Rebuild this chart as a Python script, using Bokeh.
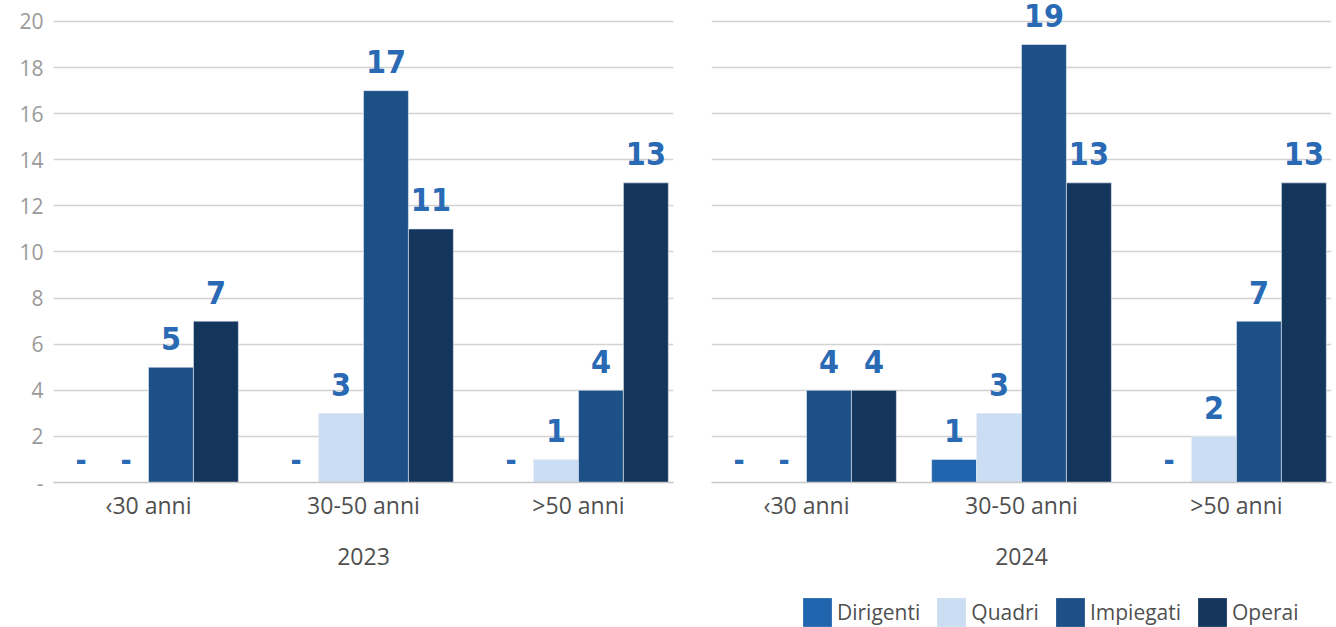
from bokeh.plotting import figure
from bokeh.models import ColumnDataSource, FactorRange, Legend, LegendItem, FixedTicker, Range1d
from bokeh.transform import dodge
from bokeh.layouts import row, column
from bokeh.embed import file_html
from bokeh.resources import INLINE
from bokeh.core.properties import value

# ---- data ----
categories = ["‹30 anni", "30-50 anni", ">50 anni"]
series = ["Dirigenti", "Quadri", "Impiegati", "Operai"]
years = ["2023", "2024"]

dirigenti_2023 = [0, 0, 0]
quadri_2023 = [0, 3, 1]
impiegati_2023 = [5, 17, 4]
operai_2023 = [7, 11, 13]

dirigenti_2024 = [0, 1, 0]
quadri_2024 = [0, 3, 2]
impiegati_2024 = [4, 19, 7]
operai_2024 = [4, 13, 13]

y_ticks = [0, 2, 4, 6, 8, 10, 12, 14, 16, 18, 20]

# ---- style ----
colors = ["#2265AF", "#CADDF3", "#1E5088", "#14355C"]
label_color = "#2A6AB5"
tick_color = "#9A9A9A"
text_color = "#505050"
grid_color = "#D2D2D2"
tick_font = "Open Sans"
num_font = "'DejaVu Sans Condensed', 'Roboto Condensed', Roboto"

bar_w = 0.209
offsets = [-1.5 * bar_w, -0.5 * bar_w, 0.5 * bar_w, 1.5 * bar_w]


def make_panel(year, data, width, height, border_left, border_right, border_bottom, show_y):
    xr = FactorRange(factors=categories, range_padding=-0.0387)
    p = figure(x_range=xr, y_range=Range1d(0, 20.91), width=width, height=height,
               output_backend="svg", toolbar_location=None,
               min_border_left=border_left, min_border_right=border_right,
               min_border_top=0, min_border_bottom=border_bottom)
    p.outline_line_color = None
    p.xgrid.grid_line_color = None
    p.ygrid.grid_line_color = grid_color
    p.ygrid.grid_line_width = 1.5
    p.yaxis.ticker = FixedTicker(ticks=y_ticks)
    p.ygrid.ticker = FixedTicker(ticks=y_ticks)
    p.yaxis.major_label_overrides = {0: "-"}
    p.yaxis.axis_line_color = None
    p.yaxis.major_tick_line_color = None
    p.yaxis.minor_tick_line_color = None
    p.yaxis.major_tick_out = 0
    p.yaxis.major_tick_in = 0
    p.yaxis.major_label_standoff = 10
    p.yaxis.major_label_text_font = tick_font
    p.yaxis.major_label_text_font_size = "21px"
    p.yaxis.major_label_text_color = tick_color
    p.yaxis.visible = show_y

    p.xaxis.axis_line_color = "#C8C8C8"
    p.xaxis.axis_line_width = 1.5
    p.xaxis.major_tick_line_color = None
    p.xaxis.major_tick_out = 0
    p.xaxis.major_tick_in = 0
    p.xaxis.major_label_standoff = 6
    p.xaxis.major_label_text_font = tick_font
    p.xaxis.major_label_text_font_size = "23px"
    p.xaxis.major_label_text_color = text_color
    p.xaxis.axis_label = year
    p.xaxis.axis_label_standoff = 24
    p.xaxis.axis_label_text_font = tick_font
    p.xaxis.axis_label_text_font_size = "23px"
    p.xaxis.axis_label_text_font_style = "normal"
    p.xaxis.axis_label_text_color = text_color

    renderers = []
    for i, name in enumerate(series):
        vals = data[i]
        src = ColumnDataSource(dict(cat=categories, val=vals))
        r = p.vbar(x=dodge("cat", offsets[i], range=xr), top="val", width=bar_w,
                   source=src, fill_color=colors[i], line_color="#E8EEF5",
                   line_width=0.6)
        renderers.append(r)
        nz = [k for k, v in enumerate(vals) if v != 0]
        zz = [k for k, v in enumerate(vals) if v == 0]
        src_nz = ColumnDataSource(dict(cat=[categories[k] for k in nz],
                                       val=[vals[k] for k in nz],
                                       lab=[str(vals[k]) for k in nz]))
        src_z = ColumnDataSource(dict(cat=[categories[k] for k in zz],
                                      val=[vals[k] for k in zz],
                                      lab=["-" for k in zz]))
        p.text(x=dodge("cat", offsets[i], range=xr), y="val", text="lab", source=src_nz,
               text_align="center", text_baseline="alphabetic", y_offset=-29,
               text_font=value(num_font), text_font_style="bold",
               text_font_size="32px", text_color=label_color)
        p.text(x=dodge("cat", offsets[i], range=xr), y="val", text="lab", source=src_z,
               text_align="center", text_baseline="alphabetic", y_offset=-23,
               text_font=value(num_font), text_font_style="bold",
               text_font_size="30px", text_color=label_color)
    return p, renderers


data_2024 = [dirigenti_2024, quadri_2024, impiegati_2024, operai_2024]
p1, _ = make_panel(years[0], [dirigenti_2023, quadri_2023, impiegati_2023, operai_2023],
                   690, 627, 53, 17, 145, True)
p2, rs = make_panel(years[1], data_2024, 646, 594, 21, 5, 112, False)

# legend strip below the right panel (hidden proxy bars carry the legend swatches)
lxr = FactorRange(factors=categories)
lf = figure(width=646, height=33, output_backend="svg", toolbar_location=None,
            min_border=0, x_range=lxr, y_range=Range1d(0, 1))
lf.axis.visible = False
lf.grid.visible = False
lf.outline_line_color = None
legend_rs = []
for i, name in enumerate(series):
    src = ColumnDataSource(dict(cat=categories, val=data_2024[i]))
    r = lf.vbar(x="cat", top="val", width=0.2, source=src, fill_color=colors[i],
                line_color=None)
    r.visible = False
    legend_rs.append(r)
legend = Legend(items=[LegendItem(label=s, renderers=[r]) for s, r in zip(series, legend_rs)],
                orientation="horizontal", location=(88, -3),
                glyph_width=36, glyph_height=36, label_standoff=2, spacing=13,
                padding=0, margin=0, border_line_color=None,
                background_fill_alpha=0, label_height=36,
                label_text_font=tick_font, label_text_font_size="21px",
                label_text_color=text_color)
lf.add_layout(legend, "center")

layout = row(p1, column(p2, lf, spacing=0), spacing=0)
open("out.html", "w").write(file_html(layout, INLINE))
